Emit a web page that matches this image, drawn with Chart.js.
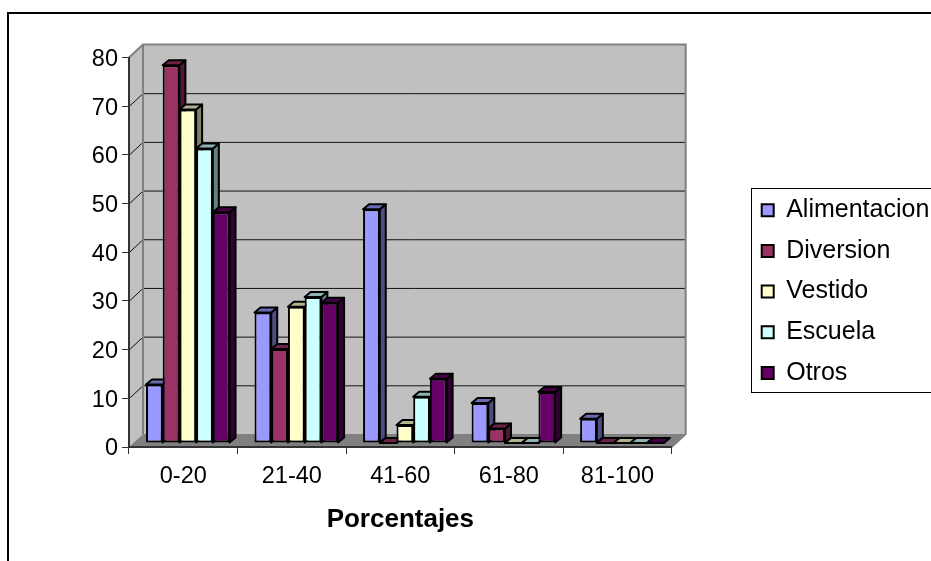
<!DOCTYPE html>
<html>
<head>
<meta charset="utf-8">
<style>
    html, body { margin: 0; padding: 0; background: #fff; overflow: hidden; }
    #wrap { width: 931px; height: 561px; }
</style>
<script src="https://cdn.jsdelivr.net/npm/chart.js@4"></script>
</head>
<body>
<div id="wrap"><canvas id="grafico" width="931" height="561"></canvas></div>
<script>
const categorias = ['0-20', '21-40', '41-60', '61-80', '81-100'];
const alimentacion = [12, 26.8, 48, 8.2, 5];
const diversion = [77.6, 19.3, 0, 3, 0];
const vestido = [68.5, 28, 3.7, 0, 0];
const escuela = [60.5, 30, 9.5, 0, 0];
const otros = [47.4, 28.8, 13.2, 10.5, 0];
const nomes = ['Alimentacion', 'Diversion', 'Vestido', 'Escuela', 'Otros'];
const cores = ['#9999FF', '#993366', '#FFFFCC', '#CCFFFF', '#660066'];
const coresLado = ['#4D4D80', '#4D1A33', '#808066', '#668080', '#330033'];
const coresTopo = ['#6B6BB3', '#6B2447', '#B3B38F', '#8FB3B3', '#470047'];

// profundidade do "3D" do Excel
const PAREDE_X = 14, PAREDE_Y = 13;
const BARRA_X = 4.5, BARRA_Y = 4;
const LADO_X = 6, LADO_Y = 5;

function poligono(ctx, pontos, fill, stroke, largura) {
    ctx.beginPath();
    pontos.forEach((p, i) => i ? ctx.lineTo(p[0], p[1]) : ctx.moveTo(p[0], p[1]));
    ctx.closePath();
    if (fill) { ctx.fillStyle = fill; ctx.fill(); }
    if (stroke) { ctx.strokeStyle = stroke; ctx.lineWidth = largura; ctx.stroke(); }
}

const efeito3d = {
    id: 'efeito3d',
    afterLayout(chart) {
        // caixa da legenda fica fora do centro do canvas
        const leg = chart.legend;
        leg.top = 182;
        leg.bottom = 540;
        leg.left = 746;
        leg.right = 990;
        leg.adjustHitBoxes();
    },
    beforeDraw(chart) {
        const ctx = chart.ctx;
        const { left, right, top, bottom } = chart.chartArea;
        const esc = chart.scales.y;

        // moldura externa
        ctx.save();
        ctx.strokeStyle = '#000';
        ctx.lineWidth = 2;
        ctx.beginPath();
        ctx.moveTo(8, 561);
        ctx.lineTo(8, 13);
        ctx.lineTo(931, 13);
        ctx.stroke();

        // paredes e chão
        poligono(ctx, [[left + PAREDE_X, top - PAREDE_Y], [right + PAREDE_X, top - PAREDE_Y], [right + PAREDE_X, bottom - PAREDE_Y], [left + PAREDE_X, bottom - PAREDE_Y]], '#C0C0C0');
        poligono(ctx, [[left, top], [left + PAREDE_X, top - PAREDE_Y], [left + PAREDE_X, bottom - PAREDE_Y], [left, bottom]], '#C0C0C0');
        poligono(ctx, [[left, bottom], [left + PAREDE_X, bottom - PAREDE_Y], [right + PAREDE_X, bottom - PAREDE_Y], [right, bottom]], '#808080');

        // linhas de grade
        esc.ticks.forEach(t => {
            if (t.value === 0 || t.value === 80) return;
            const y = esc.getPixelForValue(t.value);
            ctx.strokeStyle = '#111';
            ctx.lineWidth = 1;
            ctx.beginPath();
            ctx.moveTo(left, y + 0.5);
            ctx.lineTo(left + PAREDE_X, y - PAREDE_Y + 0.5);
            ctx.lineTo(right + PAREDE_X, y - PAREDE_Y + 0.5);
            ctx.stroke();
        });

        // contorno cinza das paredes
        ctx.strokeStyle = '#808080';
        ctx.lineWidth = 2;
        ctx.beginPath();
        ctx.moveTo(left, top);
        ctx.lineTo(left + PAREDE_X, top - PAREDE_Y);
        ctx.lineTo(right + PAREDE_X, top - PAREDE_Y);
        ctx.lineTo(right + PAREDE_X, bottom - PAREDE_Y);
        ctx.lineTo(right, bottom);
        ctx.moveTo(left + PAREDE_X, top - PAREDE_Y);
        ctx.lineTo(left + PAREDE_X, bottom - PAREDE_Y);
        ctx.stroke();
        ctx.restore();
    },
    beforeDatasetsDraw(chart) {
        // faces laterais e de cima antes das frentes, da esquerda para a direita
        const ctx = chart.ctx;
        ctx.save();
        ctx.translate(BARRA_X, -BARRA_Y);
        ctx.lineJoin = 'round';
        categorias.forEach((_, c) => {
            series.forEach((_, i) => {
                const bar = chart.getDatasetMeta(i).data[c];
                const esq = bar.x - bar.width / 2, dir = bar.x + bar.width / 2;
                const topo = bar.y, base = bar.base;
                poligono(ctx, [[dir, topo], [dir + LADO_X, topo - LADO_Y], [dir + LADO_X, base - LADO_Y], [dir, base]], coresLado[i], '#000', 2);
                poligono(ctx, [[esq, topo], [esq + LADO_X, topo - LADO_Y], [dir + LADO_X, topo - LADO_Y], [dir, topo]], coresTopo[i], '#000', 2);
            });
        });
        ctx.restore();
    },
    beforeDatasetDraw(chart) {
        chart.ctx.save();
        chart.ctx.translate(BARRA_X, -BARRA_Y);
    },
    afterDatasetDraw(chart) {
        chart.ctx.restore();
    },
    afterDraw(chart) {
        // caixa da legenda
        const ctx = chart.ctx;
        ctx.save();
        ctx.strokeStyle = '#000';
        ctx.lineWidth = 1;
        ctx.strokeRect(751.5, 188.5, 200, 204);
        ctx.restore();
    }
};

const series = [alimentacion, diversion, vestido, escuela, otros];

new Chart(document.getElementById('grafico').getContext('2d'), {
    type: 'bar',
    plugins: [efeito3d],
    data: {
        labels: categorias,
        datasets: series.map((valores, i) => ({
            label: nomes[i],
            data: valores,
            backgroundColor: cores[i],
            borderColor: '#000',
            borderWidth: 2,
            borderSkipped: false
        }))
    },
    options: {
        responsive: false,
        animation: false,
        layout: { padding: { left: 0, top: 57.5, right: 66, bottom: 26 } },
        datasets: { bar: { barPercentage: 1, categoryPercentage: 0.77, clip: false } },
        plugins: {
            tooltip: { enabled: false },
            legend: {
                position: 'right',
                align: 'start',
                labels: {
                    color: '#000',
                    font: { family: 'Liberation Sans', size: 25 },
                    boxWidth: 12,
                    boxHeight: 12,
                    padding: 15.7
                }
            }
        },
        scales: {
            x: {
                afterFit: s => { s.height = 88; },
                grid: { display: true, drawOnChartArea: false, tickLength: 7, color: '#333', tickColor: '#333' },
                border: { display: true, color: '#333', width: 2 },
                ticks: { color: '#000', padding: 8, maxRotation: 0, font: { family: 'Liberation Sans', size: 23.5 } },
                title: { display: true, text: 'Porcentajes', color: '#000', padding: { top: 16, bottom: 0 }, font: { family: 'Liberation Sans', size: 26, weight: 'bold' } }
            },
            y: {
                min: 0,
                max: 80,
                afterFit: s => { s.width = 129; },
                grid: { display: true, drawOnChartArea: false, tickLength: 7, color: '#333', tickColor: '#333' },
                border: { display: true, color: '#333', width: 2 },
                ticks: { stepSize: 10, color: '#000', padding: 4, labelOffset: 2, font: { family: 'Liberation Sans', size: 23.5 } }
            }
        }
    }
});
</script>
</body>
</html>
